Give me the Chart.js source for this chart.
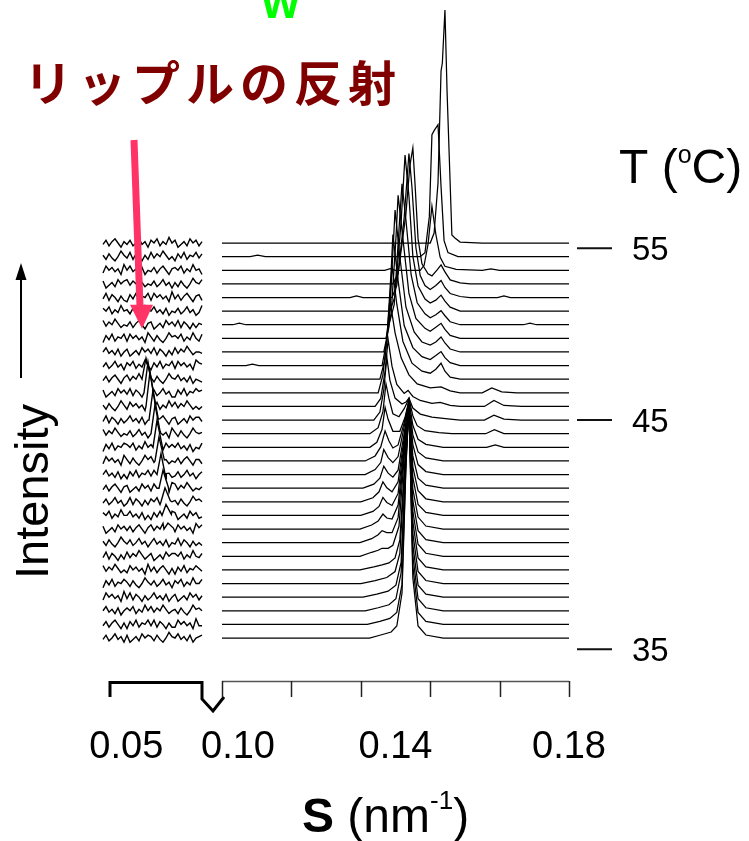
<!DOCTYPE html>
<html>
<head>
<meta charset="utf-8">
<script src="https://cdn.jsdelivr.net/npm/chart.js@4/dist/chart.umd.min.js"></script>
<style>
  html, body { margin: 0; padding: 0; background: #fff; }
  #wrap { position: relative; width: 749px; height: 841px; }
</style>
</head>
<body>
<div id="wrap"><canvas id="c" width="749" height="841"></canvas></div>
<script>
// Scan temperatures (°C), top trace first
const temperatures = [55.3, 54.5, 53.7, 52.9, 52.1, 51.3, 50.5, 49.7, 48.9, 48.2, 47.4, 46.6, 45.8, 45.0,
  44.4, 43.8, 43.2, 42.6, 42.0, 41.5, 40.9, 40.3, 39.7, 39.1, 38.5, 37.9, 37.3, 36.7, 36.1, 35.5];

// Wide-angle region: (s in nm^-1, intensity) pairs per scan, top trace first
const wideAngleScans = [
  [0.1000,0, 0.1480,0, 0.1489,10, 0.1498,60, 0.1505,172, 0.1508,180, 0.1514,233, 0.1519,150, 0.1530,8, 0.1537,5, 0.1549,1, 0.1600,0, 0.1800,0],
  [0.1000,0, 0.1065,0, 0.1082,1.5, 0.1100,0, 0.1457,0, 0.1468,4, 0.1478,40, 0.1484,122, 0.1489,126, 0.1498,132, 0.1505,70, 0.1512,16, 0.1521,4, 0.1544,0, 0.1800,0],
  [0.1000,0, 0.1375,0, 0.1388,1.5, 0.1400,0, 0.1457,0, 0.1466,5, 0.1475,26, 0.1484,64, 0.1493,36, 0.1503,13, 0.1514,4, 0.1540,1, 0.1600,0, 0.1620,1.5, 0.1640,0, 0.1800,0],
  [0.1000,0, 0.1394,0, 0.1406,10, 0.1424,70, 0.1433,118, 0.1440,136, 0.1445,100, 0.1452,45, 0.1461,20, 0.1475,10, 0.1484,8, 0.1496,14, 0.1505,19, 0.1514,12, 0.1526,4, 0.1549,1, 0.1572,0, 0.1800,0],
  [0.1000,0, 0.1295,0, 0.1310,1.5, 0.1325,0, 0.1392,0, 0.1403,12, 0.1420,80, 0.1431,144, 0.1438,110, 0.1447,50, 0.1457,22, 0.1468,12, 0.1480,8, 0.1493,12, 0.1505,17, 0.1514,10, 0.1526,4, 0.1549,1, 0.1572,0, 0.1635,0, 0.1650,1.5, 0.1665,0, 0.1800,0],
  [0.1000,0, 0.1387,0, 0.1399,15, 0.1413,90, 0.1422,156, 0.1431,115, 0.1440,55, 0.1452,25, 0.1468,12, 0.1480,8, 0.1493,11, 0.1505,16, 0.1514,10, 0.1526,4, 0.1549,0, 0.1800,0],
  [0.1000,0, 0.1025,0, 0.1040,1.5, 0.1055,0, 0.1385,0, 0.1397,20, 0.1408,95, 0.1415,141, 0.1424,105, 0.1436,50, 0.1450,22, 0.1468,11, 0.1480,7, 0.1493,10, 0.1505,14, 0.1514,9, 0.1526,3, 0.1549,0, 0.1695,0, 0.1710,1.5, 0.1725,0, 0.1800,0],
  [0.1000,0, 0.1378,0, 0.1390,25, 0.1401,100, 0.1406,143, 0.1417,100, 0.1431,45, 0.1447,20, 0.1468,10, 0.1480,7, 0.1493,11, 0.1505,15, 0.1514,9, 0.1526,3, 0.1549,0, 0.1800,0],
  [0.1000,0, 0.1373,0, 0.1385,25, 0.1394,100, 0.1399,142, 0.1410,95, 0.1424,45, 0.1443,20, 0.1461,10, 0.1480,7, 0.1493,10, 0.1505,15, 0.1514,9, 0.1526,3, 0.1549,0, 0.1800,0],
  [0.1000,0, 0.1055,0, 0.1070,1.5, 0.1085,0, 0.1369,0, 0.1380,25, 0.1390,95, 0.1394,131, 0.1406,85, 0.1420,40, 0.1440,18, 0.1461,9, 0.1480,6, 0.1493,10, 0.1505,14, 0.1514,8, 0.1526,3, 0.1549,0, 0.1800,0],
  [0.1000,0, 0.1364,0, 0.1376,20, 0.1387,80, 0.1392,114, 0.1403,75, 0.1417,38, 0.1438,16, 0.1461,8, 0.1480,6, 0.1493,10, 0.1505,16, 0.1514,8, 0.1526,2, 0.1549,0, 0.1800,0],
  [0.1000,0, 0.1360,0, 0.1371,18, 0.1383,65, 0.1387,93, 0.1399,60, 0.1413,35, 0.1431,18, 0.1450,9, 0.1480,5, 0.1505,6, 0.1526,2, 0.1549,0, 0.1600,0, 0.1622,5, 0.1645,1, 0.1680,0, 0.1800,0],
  [0.1000,0, 0.1353,0, 0.1366,8, 0.1376,35, 0.1383,67, 0.1392,40, 0.1403,22, 0.1420,13, 0.1429,16, 0.1440,10, 0.1457,6, 0.1484,3, 0.1503,4, 0.1526,1, 0.1549,0, 0.1605,0, 0.1627,6, 0.1650,1, 0.1690,0, 0.1800,0],
  [0.1000,0, 0.1350,0, 0.1364,8, 0.1373,30, 0.1380,63, 0.1387,40, 0.1399,22, 0.1415,16, 0.1424,18, 0.1431,22, 0.1440,12, 0.1457,6, 0.1484,3, 0.1526,1, 0.1549,0, 0.1605,0, 0.1627,5, 0.1650,1, 0.1690,0, 0.1800,0],
  [0.1000,0, 0.1341,0, 0.1360,6, 0.1371,22, 0.1378,50, 0.1385,35, 0.1394,20, 0.1408,17, 0.1420,25, 0.1431,35, 0.1440,18, 0.1450,8, 0.1468,3, 0.1500,1, 0.1530,0, 0.1608,0, 0.1628,4, 0.1650,0, 0.1800,0],
  [0.1000,0, 0.1341,0, 0.1357,5, 0.1369,18, 0.1376,40, 0.1383,28, 0.1394,16, 0.1410,16, 0.1422,30, 0.1431,47, 0.1440,22, 0.1452,8, 0.1470,3, 0.1510,0, 0.1610,0, 0.1630,2.5, 0.1650,0, 0.1800,0],
  [0.1000,0, 0.1330,0, 0.1353,5, 0.1366,14, 0.1376,30, 0.1385,20, 0.1394,13, 0.1406,16, 0.1420,38, 0.1431,59, 0.1440,26, 0.1452,9, 0.1470,3, 0.1510,0, 0.1800,0],
  [0.1000,0, 0.1330,0, 0.1353,5, 0.1366,12, 0.1373,25, 0.1383,17, 0.1394,12, 0.1406,18, 0.1420,48, 0.1431,74, 0.1440,30, 0.1452,10, 0.1470,3, 0.1510,0, 0.1800,0],
  [0.1000,0, 0.1325,0, 0.1350,4, 0.1364,10, 0.1373,22, 0.1383,15, 0.1394,11, 0.1406,18, 0.1422,60, 0.1431,85, 0.1440,32, 0.1452,10, 0.1470,3, 0.1510,0, 0.1800,0],
  [0.1000,0, 0.1320,0, 0.1348,4, 0.1362,10, 0.1371,20, 0.1380,14, 0.1392,10, 0.1406,20, 0.1422,70, 0.1431,101, 0.1440,35, 0.1452,11, 0.1470,3, 0.1510,0, 0.1800,0],
  [0.1000,0, 0.1320,0, 0.1348,4, 0.1362,9, 0.1371,18, 0.1380,13, 0.1392,10, 0.1406,22, 0.1422,80, 0.1431,112, 0.1440,38, 0.1452,11, 0.1470,3, 0.1510,0, 0.1800,0],
  [0.1000,0, 0.1318,0, 0.1345,4, 0.1360,8, 0.1371,15, 0.1380,11, 0.1392,10, 0.1406,24, 0.1422,90, 0.1431,127, 0.1440,40, 0.1452,12, 0.1470,3, 0.1510,0, 0.1800,0],
  [0.1000,0, 0.1318,0, 0.1345,4, 0.1360,8, 0.1369,12, 0.1380,10, 0.1392,10, 0.1406,25, 0.1422,100, 0.1431,138, 0.1440,42, 0.1452,12, 0.1470,3, 0.1510,0, 0.1800,0],
  [0.1000,0, 0.1318,0, 0.1345,4, 0.1360,6, 0.1369,8, 0.1383,8, 0.1394,11, 0.1408,30, 0.1422,110, 0.1431,153, 0.1440,45, 0.1452,12, 0.1470,3, 0.1510,0, 0.1800,0],
  [0.1000,0, 0.1318,0, 0.1350,3, 0.1369,5, 0.1385,7, 0.1399,12, 0.1410,30, 0.1424,125, 0.1431,164, 0.1440,48, 0.1452,12, 0.1470,3, 0.1510,0, 0.1800,0],
  [0.1000,0, 0.1320,0, 0.1353,3, 0.1380,6, 0.1399,12, 0.1410,30, 0.1424,135, 0.1431,180, 0.1440,50, 0.1452,12, 0.1470,3, 0.1510,0, 0.1800,0],
  [0.1000,0, 0.1325,0, 0.1357,3, 0.1383,6, 0.1401,12, 0.1413,35, 0.1424,140, 0.1431,190, 0.1440,52, 0.1452,12, 0.1470,3, 0.1510,0, 0.1800,0],
  [0.1000,0, 0.1330,0, 0.1360,3, 0.1385,6, 0.1401,12, 0.1413,38, 0.1424,150, 0.1431,206, 0.1440,55, 0.1452,12, 0.1470,3, 0.1510,0, 0.1800,0],
  [0.1000,0, 0.1335,0, 0.1364,3, 0.1387,6, 0.1403,12, 0.1415,40, 0.1424,160, 0.1431,217, 0.1440,58, 0.1452,12, 0.1470,3, 0.1510,0, 0.1800,0],
  [0.1000,0, 0.1340,0, 0.1366,3, 0.1390,6, 0.1403,12, 0.1415,45, 0.1424,170, 0.1431,234, 0.1440,60, 0.1452,12, 0.1470,3, 0.1510,0, 0.1800,0]
];

// Small-angle region: one noise level (0-9, 4 = baseline) per sample on a regular s grid
const smallAngleStart = 0.0430;
const smallAngleStep = 0.0009;
const smallAngleLevels = [
  "3625741536247351647253846135274625",
  "5263148537264152736485241637254736",
  "2746351847352614362574156472538451",
  "6135274673648524362473515263148547",
  "3726415216372547274635183625741562",
  "6472538452631485473526143624735138",
  "7364852436257415613527463726415254",
  "1637254727463518526314856472538427",
  "4735261461352746372641527364852443",
  "3624735164725384163725472746351865",
  "3625741573648524526314854735261432",
  "6135274637264152362473511637254756",
  "5263148527463518647253847364852424",
  "3726415247352614362574156135274663",
  "7364852436247351274635185263148545",
  "1637254764725384613527464735261437",
  "2746351852631485736485243625741552",
  "4735261416372547372641523624735146",
  "3625741561352746274635187364852435",
  "3624735137264152647253845263148564",
  "6472538447352614163725476135274623",
  "6135274636257415736485242746351857",
  "5263148536247351473526143726415242",
  "3726415273648524613527466472538436",
  "7364852427463518362574151637254753",
  "1637254752631485362473516472538447",
  "2746351837264152473526146135274625",
  "4735261464725384736485245263148564",
  "3625741516372547372641522746351833",
  "3624735161352746526314854735261456"
];
// Ripple reflection: [trace index, s position, peak height]
const ripplePeaks = [[10,0.0559,21],[11,0.0565,31],[12,0.0571,35],[13,0.0580,30],[14,0.0586,29],[15,0.0592,27],
  [16,0.0598,24],[17,0.0604,21],[18,0.0610,18],[19,0.0616,14],[20,0.0619,11],[21,0.0625,6]];

// Axis annotations
const sTicks = [0.100, 0.116, 0.132, 0.148, 0.164, 0.180];
const sLabelsWide = [0.10, 0.14, 0.18];
const sLabelSmall = 0.05;
const tempTickLabels = [55, 45, 35];

// Layout of the stack (y units = pixels)
const TRACE_STEP = 13.62;
const BASE_BOTTOM = 43;
const NOISE_UNIT = 1.4;
const N = temperatures.length;
const baseOf = k => BASE_BOTTOM + (N - 1 - k) * TRACE_STEP;

// fractional trace position of a temperature (linear between neighbouring scans)
function traceIndexOf(t) {
  for (let k = 0; k < N - 1; k++) {
    const a = temperatures[k], b = temperatures[k + 1];
    if ((t <= a && t >= b) || k === N - 2) return k + (a - t) / (a - b);
  }
  return (temperatures[0] - t) / (temperatures[0] - temperatures[1]);
}
function baseAtTemp(t) {
  let fk = traceIndexOf(t);
  if (t > temperatures[0]) fk = (temperatures[0] - t) / (temperatures[0] - temperatures[1]);
  return BASE_BOTTOM + (N - 1 - fk) * TRACE_STEP;
}

const datasets = [];
const lineStyle = { borderColor: '#000', borderWidth: 1.25, pointRadius: 0, tension: 0, fill: false, clip: false };

wideAngleScans.forEach((arr, k) => {
  const pts = [];
  for (let i = 0; i < arr.length; i += 2) pts.push({ x: arr[i], y: baseOf(k) + arr[i + 1] });
  datasets.push(Object.assign({ label: temperatures[k] + ' °C', data: pts, xAxisID: 'xr', yAxisID: 'y' }, lineStyle));
});

smallAngleLevels.forEach((str, k) => {
  let pts = [];
  for (let j = 0; j < str.length; j++) {
    pts.push({ x: smallAngleStart + j * smallAngleStep, y: (Number(str[j]) - 4) * NOISE_UNIT });
  }
  const pk = ripplePeaks.find(p => p[0] === k);
  if (pk) {
    pts = pts.filter(p => Math.abs(p.x - pk[1]) > 0.0014);
    pts.push({ x: pk[1] - 0.0012, y: 0 }, { x: pk[1], y: pk[2] }, { x: pk[1] + 0.0016, y: 1 });
    pts.sort((a, b) => a.x - b.x);
  }
  pts.forEach(p => { p.y += baseOf(k); });
  datasets.push(Object.assign({ label: 'SAXS ' + temperatures[k] + ' °C', data: pts, xAxisID: 'xl', yAxisID: 'y' },
    lineStyle, { borderWidth: 1.4 }));
});

// Panel geometry inside the plot area (pixels)
const AREA_W = 466, SMALL_W = 100, WIDE_OFFSET = 119;
const smallEnd = smallAngleStart + 0.030;
const xlMax = smallAngleStart + (smallEnd - smallAngleStart) * AREA_W / SMALL_W;
const xrMin = 0.18 - (0.18 - 0.10) * AREA_W / (AREA_W - WIDE_OFFSET);

const FONT = '"Liberation Sans", Arial, Helvetica, sans-serif';

const decor = {
  id: 'decor',
  afterDraw(chart) {
    const ctx = chart.ctx;
    const xr = chart.scales.xr, xl = chart.scales.xl, ys = chart.scales.y;
    const ay = chart.chartArea.bottom;
    ctx.save();

    // broken s axis: bracket for the small-angle part
    const lx0 = xl.getPixelForValue(smallAngleStart) + 7;
    const lx1 = xl.getPixelForValue(smallAngleStart + (smallAngleLevels[0].length - 1) * smallAngleStep);
    ctx.strokeStyle = '#000'; ctx.lineWidth = 3; ctx.lineJoin = 'miter';
    ctx.beginPath();
    ctx.moveTo(lx0, ay + 16); ctx.lineTo(lx0, ay + 1.5); ctx.lineTo(lx1, ay + 1.5);
    ctx.lineTo(lx1, ay + 18); ctx.lineTo(lx1 + 11, ay + 30); ctx.lineTo(lx1 + 22, ay + 16);
    ctx.stroke();

    // wide-angle axis line and ticks
    ctx.strokeStyle = '#555'; ctx.lineWidth = 1.5;
    ctx.beginPath();
    ctx.moveTo(xr.getPixelForValue(0.10), ay + 0.5); ctx.lineTo(xr.getPixelForValue(0.18), ay + 0.5);
    ctx.stroke();
    ctx.strokeStyle = '#222';
    sTicks.forEach(t => {
      const px = Math.round(xr.getPixelForValue(t)) + 0.5;
      ctx.beginPath(); ctx.moveTo(px, ay); ctx.lineTo(px, ay + 16); ctx.stroke();
    });

    // s tick labels
    ctx.fillStyle = '#000';
    ctx.font = '38px ' + FONT; ctx.textAlign = 'center'; ctx.textBaseline = 'alphabetic';
    ctx.fillText(sLabelSmall.toFixed(2), xl.getPixelForValue(sLabelSmall), 758);
    sLabelsWide.forEach((v, i) => {
      const shift = i === 0 ? 16 : 0;
      ctx.fillText(v.toFixed(2), xr.getPixelForValue(v) + shift, 758);
    });

    // s axis title: S (nm-1)
    let x = 302; const by = 832;
    ctx.textAlign = 'left';
    ctx.font = 'bold 48px ' + FONT; ctx.fillText('S', x, by); x += ctx.measureText('S').width;
    ctx.font = '48px ' + FONT; ctx.fillText(' (nm', x, by); x += ctx.measureText(' (nm').width;
    ctx.font = '26px ' + FONT; ctx.fillText('-1', x, by - 23); x += ctx.measureText('-1').width;
    ctx.font = '48px ' + FONT; ctx.fillText(')', x, by);

    // temperature markers
    ctx.strokeStyle = '#111'; ctx.lineWidth = 2;
    ctx.font = '33px ' + FONT; ctx.textBaseline = 'middle';
    tempTickLabels.forEach(t => {
      const py = ys.getPixelForValue(baseAtTemp(t));
      ctx.beginPath(); ctx.moveTo(577, py); ctx.lineTo(612, py); ctx.stroke();
      ctx.fillText(String(t), 632, py + 3);
    });
    ctx.textBaseline = 'alphabetic';

    // T (°C)
    x = 619; const ty = 183;
    ctx.font = '48px ' + FONT; ctx.fillText('T (', x, ty); x += ctx.measureText('T (').width;
    ctx.font = '25px ' + FONT; ctx.fillText('o', x, ty - 20); x += ctx.measureText('o').width;
    ctx.font = '48px ' + FONT; ctx.fillText('C)', x, ty);

    // Intensity label with arrow
    ctx.save();
    ctx.translate(48, 579); ctx.rotate(-Math.PI / 2);
    ctx.font = '47px ' + FONT; ctx.fillText('Intensity', 0, 0);
    ctx.restore();
    ctx.strokeStyle = '#000'; ctx.lineWidth = 2;
    ctx.beginPath(); ctx.moveTo(21, 378); ctx.lineTo(21, 276); ctx.stroke();
    ctx.fillStyle = '#000';
    ctx.beginPath(); ctx.moveTo(21, 263); ctx.lineTo(15.5, 280); ctx.lineTo(26.5, 280); ctx.closePath(); ctx.fill();

    // ripple reflection callout
    const tipX = xl.getPixelForValue(0.0547), tipY = ys.getPixelForValue(baseOf(6)) + 4;
    ctx.strokeStyle = '#ff3366'; ctx.fillStyle = '#ff3366'; ctx.lineWidth = 7; ctx.lineCap = 'butt';
    ctx.beginPath(); ctx.moveTo(tipX - 8, 140); ctx.lineTo(tipX - 2, tipY - 22); ctx.stroke();
    ctx.beginPath(); ctx.moveTo(tipX - 12, tipY - 24); ctx.lineTo(tipX + 11, tipY - 24); ctx.lineTo(tipX, tipY); ctx.closePath(); ctx.fill();

    ctx.fillStyle = '#800000';
    ctx.font = 'bold 48px "Noto Sans CJK JP", sans-serif';
    let cx = 24;
    for (const ch of 'リップルの反射') { ctx.fillText(ch, cx, 101); cx += ctx.measureText(ch).width + 6; }

    ctx.fillStyle = '#00ff00';
    ctx.font = 'bold 48px ' + FONT;
    ctx.fillText('w', 262, 18);

    ctx.restore();
  }
};

new Chart(document.getElementById('c').getContext('2d'), {
  type: 'line',
  data: { datasets },
  options: {
    responsive: false,
    animation: false,
    devicePixelRatio: 1,
    layout: { padding: { left: 103, right: 180, top: 0, bottom: 160 } },
    plugins: { legend: { display: false }, tooltip: { enabled: false } },
    scales: {
      xr: { type: 'linear', axis: 'x', display: false, min: xrMin, max: 0.18 },
      xl: { type: 'linear', axis: 'x', display: false, min: smallAngleStart, max: xlMax },
      y: { type: 'linear', display: false, min: 0, max: 681 }
    }
  },
  plugins: [decor]
});
</script>
</body>
</html>
